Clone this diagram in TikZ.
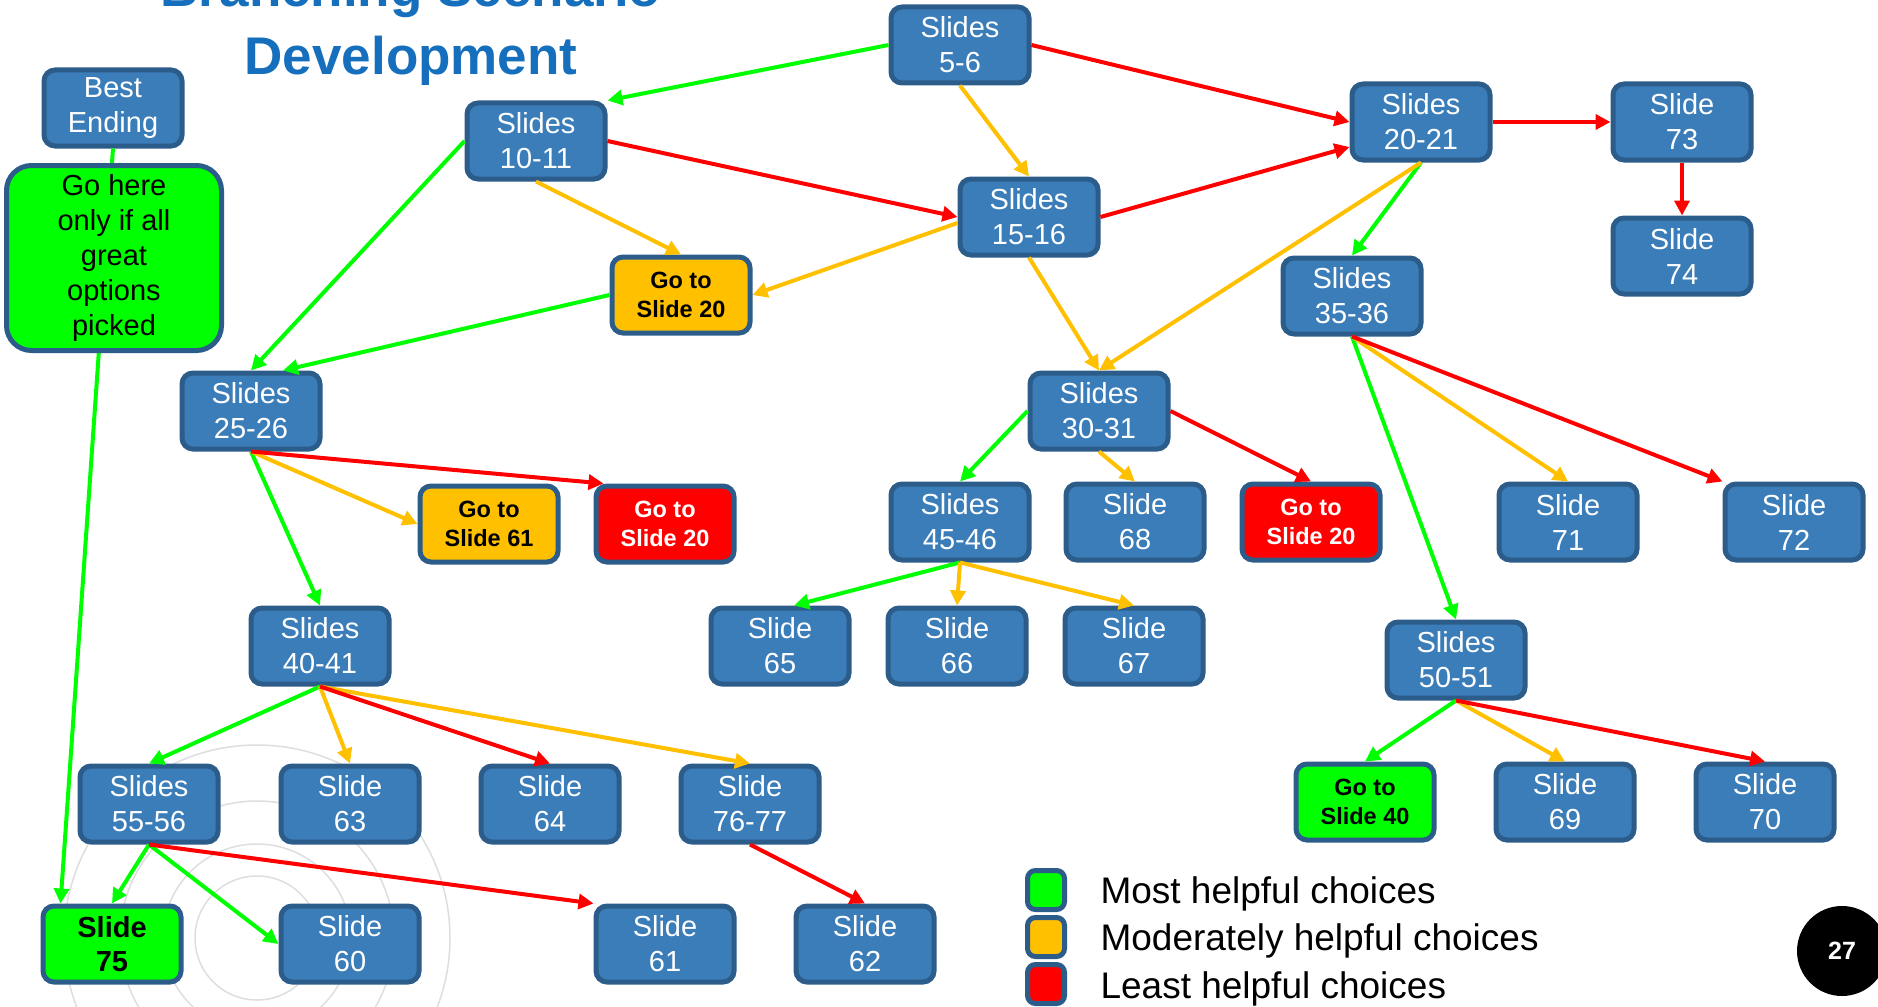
\documentclass[tikz,border=0pt]{standalone}
\usepackage{fontspec}
\setmainfont{Liberation Sans}
\usepackage{tikz}
\usetikzlibrary{positioning, arrows.meta}
\definecolor{boxBlue}{RGB}{59,125,185}
\definecolor{boxBorder}{RGB}{44,93,138}
\definecolor{choiceGreen}{RGB}{0,255,0}
\definecolor{choiceAmber}{RGB}{255,192,0}
\definecolor{choiceRed}{RGB}{255,0,0}
\definecolor{titleBlue}{RGB}{22,111,189}
\definecolor{ringGray}{RGB}{222,222,222}
\tikzset{
    >={Triangle[length=15pt, width=15pt]}, % solid triangle heads
    every edge/.append style={->, line width=4pt}, % every choice is a directed edge
    node distance=200pt, % spacing of the evenly spaced rows. Change if necessary.
}

\begin{document}
\begin{tikzpicture}[
        x=1pt, y=-1pt,
        styleBox/.style={draw=boxBorder, line width=5pt, rounded corners=11pt, minimum width=138pt, minimum height=76pt, inner sep=1pt, align=center, font=\fontsize{29}{35}\selectfont},
        styleSlide/.style={styleBox, fill=boxBlue, text=white},
        styleGoto/.style={styleBox, font=\bfseries\fontsize{23.5}{29}\selectfont},
        styleKey/.style={draw=boxBorder, line width=5pt, rounded corners=8pt, minimum width=37pt, minimum height=39pt, inner sep=0pt},
        styleKeyText/.style={anchor=base west, font=\fontsize{37}{44}\selectfont},
        styleTitle/.style={anchor=base, text=titleBlue, font=\bfseries\fontsize{53}{64}\selectfont},
    ]
    \fill[white] (0,0) rectangle (1878,1006);
    \useasboundingbox (0,0) rectangle (1878,1006);
    \draw[ringGray, line width=1.5pt] (257,938) circle (62pt) (257,938) circle (94pt) (257,938) circle (137pt) (257,938) circle (193pt);

    \node[styleTitle] (titleTop) at (411,7) {Branching Scenario};
    \node[styleTitle] (titleBottom) at (411,75) {Development};

    \node[styleSlide] (best) at (113,108) {Best\\Ending};
    \node[styleSlide] (s56) at (960,45) {Slides\\5-6};
    \node[styleSlide] (s1011) at (536,141) {Slides\\10-11};
    \node[styleSlide] (s1516) at (1029,217) {Slides\\15-16};
    \node[styleSlide] (s2021) at (1421,122) {Slides\\20-21};
    \node[styleSlide] (s73) at (1682,122) {Slide\\73};
    \node[styleSlide, below of=s73, node distance=134pt] (s74) {Slide\\74};
    \node[styleGoto, fill=choiceAmber] (go20a) at (681,295) {Go to\\Slide 20};
    \node[styleSlide] (s3536) at (1352,296) {Slides\\35-36};
    \node[styleSlide] (s2526) at (251,411) {Slides\\25-26};
    \node[styleSlide] (s3031) at (1099,411) {Slides\\30-31};
    \node[styleGoto, fill=choiceAmber] (go61) at (489,524) {Go to\\Slide 61};
    \node[styleGoto, fill=choiceRed, text=white, right of=go61, node distance=176pt] (go20b) {Go to\\Slide 20};
    \node[styleSlide] (s4546) at (960,522) {Slides\\45-46};
    \node[styleSlide, right of=s4546, node distance=175pt] (s68) {Slide\\68};
    \node[styleGoto, fill=choiceRed, text=white, right of=s68, node distance=176pt] (go20c) {Go to\\Slide 20};
    \node[styleSlide] (s71) at (1568,522) {Slide\\71};
    \node[styleSlide] (s72) at (1794,522) {Slide\\72};
    \node[styleSlide] (s4041) at (320,646) {Slides\\40-41};
    \node[styleSlide] (s65) at (780,646) {Slide\\65};
    \node[styleSlide, right of=s65, node distance=177pt] (s66) {Slide\\66};
    \node[styleSlide, right of=s66, node distance=177pt] (s67) {Slide\\67};
    \node[styleSlide] (s5051) at (1456,660) {Slides\\50-51};
    \node[styleSlide] (s5556) at (149,804) {Slides\\55-56};
    \node[styleSlide] (s63) at (350,804) {Slide\\63};
    \node[styleSlide, right of=s63] (s64) {Slide\\64};
    \node[styleSlide, right of=s64] (s7677) {Slide\\76-77};
    \node[styleGoto, fill=choiceGreen] (go40) at (1365,802) {Go to\\Slide 40};
    \node[styleSlide, right of=go40] (s69) {Slide\\69};
    \node[styleSlide, right of=s69] (s70) {Slide\\70};
    \node[styleBox, fill=choiceGreen, font=\bfseries\fontsize{29}{34}\selectfont] (s75) at (112,944) {Slide\\75};
    \node[styleSlide] (s60) at (350,944) {Slide\\60};
    \node[styleSlide] (s61) at (665,944) {Slide\\61};
    \node[styleSlide, right of=s61] (s62) {Slide\\62};

    \draw[choiceGreen]
    (s56.west) edge (s1011.north east)
    (s1011.west) edge (s2526.north)
    (go20a.west) edge ([xshift=32pt]s2526.north)
    (s2526.south) edge (s4041.north)
    (s4041.south) edge (s5556.north)
    (s5556.south) edge (s75.north)
    (s5556.south) edge (s60.west)
    (best.south) edge ([xshift=20pt]s75.north west)
    (s2021.south) edge (s3536.north)
    (s3536.south) edge (s5051.north)
    (s3031.west) edge (s4546.north)
    (s4546.south) edge ([xshift=14pt]s65.north)
    (s5051.south) edge (go40.north);
    \draw[choiceAmber]
    (s56.south) edge (s1516.north)
    (s1011.south) edge (go20a.north)
    ([yshift=-6pt]s1516.west) edge (go20a.east)
    (s1516.south) edge (s3031.north)
    (s2021.south) edge (s3031.north)
    (s2526.south) edge (go61.west)
    (s3031.south) edge (s68.north)
    (s3536.south) edge (s71.north)
    (s4546.south) edge (s66.north)
    (s4546.south) edge (s67.north)
    (s4041.south) edge (s63.north)
    (s4041.south) edge (s7677.north)
    (s5051.south) edge (s69.north);
    \draw[choiceRed]
    (s56.east) edge (s2021.west)
    (s1011.east) edge (s1516.west)
    (s1516.east) edge ([yshift=-25pt]s2021.west)
    (s2021.east) edge (s73.west)
    (s73.south) edge (s74.north)
    (s2526.south) edge ([xshift=10pt]go20b.north west)
    (s3031.east) edge (go20c.north)
    (s3536.south) edge (s72.north west)
    (s4041.south) edge (s64.north)
    (s5556.south) edge (s61.north west)
    (s7677.south) edge (s62.north)
    (s5051.south) edge (s70.north);

    \node[styleBox, fill=choiceGreen, minimum width=215pt, minimum height=185pt, rounded corners=25pt] (gohere) at (114,258) {Go here\\only if all\\great\\options\\picked};

    \node[styleKey, fill=choiceGreen] (keyMost) at (1046,890) {};
    \node[styleKey, fill=choiceAmber] (keyModerate) at (1046,937) {};
    \node[styleKey, fill=choiceRed] (keyLeast) at (1046,984) {};
    \node[styleKeyText] (textMost) at (1097,903) {Most helpful choices};
    \node[styleKeyText] (textModerate) at (1097,950) {Moderately helpful choices};
    \node[styleKeyText] (textLeast) at (1097,998) {Least helpful choices};

    \node[circle, fill=black, minimum size=90pt, text=white, font=\bfseries\fontsize{25}{30}\selectfont] (pageNum) at (1842,951) {27};
\end{tikzpicture}
\end{document}
